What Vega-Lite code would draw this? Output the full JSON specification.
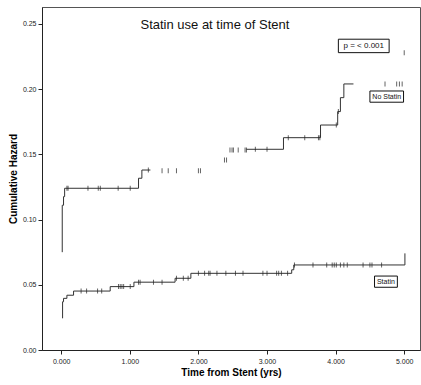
{
  "$schema": "https://vega.github.io/schema/vega-lite/v6.json",
  "width": 378,
  "height": 343,
  "autosize": {"type": "none"},
  "padding": {"left": 42, "top": 7, "right": 1, "bottom": 35},
  "config": {
    "font": "Liberation Sans",
    "view": {"stroke": "#555", "strokeWidth": 1},
    "axis": {
      "grid": false,
      "domainColor": "#222",
      "tickColor": "#222",
      "labelColor": "#222",
      "labelFont": "Liberation Sans",
      "labelFontSize": 7,
      "tickSize": 4,
      "titleFont": "Liberation Sans",
      "titleFontSize": 10,
      "titleFontWeight": "bold",
      "titleColor": "#000"
    }
  },
  "datasets": {
    "curves": [
      {"group": "No Statin", "seg": "A", "t": 0.015, "h": 0.075},
      {"group": "No Statin", "seg": "A", "t": 0.015, "h": 0.111},
      {"group": "No Statin", "seg": "A", "t": 0.034, "h": 0.1176},
      {"group": "No Statin", "seg": "A", "t": 0.05, "h": 0.124},
      {"group": "No Statin", "seg": "A", "t": 1.127, "h": 0.1317},
      {"group": "No Statin", "seg": "A", "t": 1.176, "h": 0.138},
      {"group": "No Statin", "seg": "A", "t": 1.3, "h": 0.138},
      {"group": "No Statin", "seg": "B", "t": 2.7, "h": 0.1539},
      {"group": "No Statin", "seg": "B", "t": 3.24, "h": 0.1628},
      {"group": "No Statin", "seg": "B", "t": 3.78, "h": 0.1725},
      {"group": "No Statin", "seg": "B", "t": 4.03, "h": 0.1828},
      {"group": "No Statin", "seg": "B", "t": 4.07, "h": 0.1935},
      {"group": "No Statin", "seg": "B", "t": 4.12, "h": 0.204},
      {"group": "No Statin", "seg": "B", "t": 4.26, "h": 0.204},
      {"group": "Statin", "seg": "C", "t": 0.02, "h": 0.0243},
      {"group": "Statin", "seg": "C", "t": 0.02, "h": 0.037},
      {"group": "Statin", "seg": "C", "t": 0.034, "h": 0.0396},
      {"group": "Statin", "seg": "C", "t": 0.083, "h": 0.042},
      {"group": "Statin", "seg": "C", "t": 0.18, "h": 0.0452},
      {"group": "Statin", "seg": "C", "t": 0.714, "h": 0.0486},
      {"group": "Statin", "seg": "C", "t": 1.06, "h": 0.052},
      {"group": "Statin", "seg": "C", "t": 1.66, "h": 0.055},
      {"group": "Statin", "seg": "C", "t": 1.89, "h": 0.0588},
      {"group": "Statin", "seg": "C", "t": 3.36, "h": 0.0615},
      {"group": "Statin", "seg": "C", "t": 3.39, "h": 0.0652},
      {"group": "Statin", "seg": "C", "t": 5.01, "h": 0.0652},
      {"group": "Statin", "seg": "C", "t": 5.01, "h": 0.0741}
    ],
    "censored": [
      {"group": "No Statin", "t": 0.083, "h": 0.124},
      {"group": "No Statin", "t": 0.1, "h": 0.124},
      {"group": "No Statin", "t": 0.39, "h": 0.124},
      {"group": "No Statin", "t": 0.54, "h": 0.124},
      {"group": "No Statin", "t": 0.57, "h": 0.124},
      {"group": "No Statin", "t": 0.83, "h": 0.124},
      {"group": "No Statin", "t": 1.006, "h": 0.124},
      {"group": "No Statin", "t": 1.27, "h": 0.138},
      {"group": "No Statin", "t": 1.47, "h": 0.1375},
      {"group": "No Statin", "t": 1.56, "h": 0.1375},
      {"group": "No Statin", "t": 1.68, "h": 0.1375},
      {"group": "No Statin", "t": 2.0, "h": 0.1375},
      {"group": "No Statin", "t": 2.03, "h": 0.1375},
      {"group": "No Statin", "t": 2.38, "h": 0.1457},
      {"group": "No Statin", "t": 2.41, "h": 0.1457},
      {"group": "No Statin", "t": 2.46, "h": 0.1534},
      {"group": "No Statin", "t": 2.49, "h": 0.1534},
      {"group": "No Statin", "t": 2.51, "h": 0.1534},
      {"group": "No Statin", "t": 2.58, "h": 0.1534},
      {"group": "No Statin", "t": 2.68, "h": 0.1534},
      {"group": "No Statin", "t": 2.7, "h": 0.1534},
      {"group": "No Statin", "t": 2.83, "h": 0.1539},
      {"group": "No Statin", "t": 3.0, "h": 0.1539},
      {"group": "No Statin", "t": 3.31, "h": 0.1628},
      {"group": "No Statin", "t": 3.55, "h": 0.1628},
      {"group": "No Statin", "t": 3.75, "h": 0.1628},
      {"group": "No Statin", "t": 3.77, "h": 0.1628},
      {"group": "No Statin", "t": 4.01, "h": 0.1725},
      {"group": "No Statin", "t": 4.04, "h": 0.1828},
      {"group": "No Statin", "t": 4.72, "h": 0.204},
      {"group": "No Statin", "t": 4.89, "h": 0.204},
      {"group": "No Statin", "t": 4.93, "h": 0.204},
      {"group": "No Statin", "t": 4.97, "h": 0.204},
      {"group": "No Statin", "t": 5.0, "h": 0.228},
      {"group": "Statin", "t": 0.29, "h": 0.0452},
      {"group": "Statin", "t": 0.37, "h": 0.0452},
      {"group": "Statin", "t": 0.53, "h": 0.0452},
      {"group": "Statin", "t": 0.59, "h": 0.0452},
      {"group": "Statin", "t": 0.835, "h": 0.0486},
      {"group": "Statin", "t": 0.86, "h": 0.0486},
      {"group": "Statin", "t": 0.885, "h": 0.0486},
      {"group": "Statin", "t": 0.91, "h": 0.0486},
      {"group": "Statin", "t": 1.006, "h": 0.0486},
      {"group": "Statin", "t": 1.127, "h": 0.052},
      {"group": "Statin", "t": 1.15, "h": 0.052},
      {"group": "Statin", "t": 1.345, "h": 0.052},
      {"group": "Statin", "t": 1.47, "h": 0.052},
      {"group": "Statin", "t": 1.68, "h": 0.055},
      {"group": "Statin", "t": 1.78, "h": 0.055},
      {"group": "Statin", "t": 1.85, "h": 0.055},
      {"group": "Statin", "t": 2.0, "h": 0.0588},
      {"group": "Statin", "t": 2.09, "h": 0.0588},
      {"group": "Statin", "t": 2.15, "h": 0.0588},
      {"group": "Statin", "t": 2.17, "h": 0.0588},
      {"group": "Statin", "t": 2.27, "h": 0.0588},
      {"group": "Statin", "t": 2.4, "h": 0.0588},
      {"group": "Statin", "t": 2.54, "h": 0.0588},
      {"group": "Statin", "t": 2.65, "h": 0.0588},
      {"group": "Statin", "t": 2.94, "h": 0.0588},
      {"group": "Statin", "t": 3.0, "h": 0.0588},
      {"group": "Statin", "t": 3.14, "h": 0.0588},
      {"group": "Statin", "t": 3.17, "h": 0.0588},
      {"group": "Statin", "t": 3.21, "h": 0.0588},
      {"group": "Statin", "t": 3.3, "h": 0.0588},
      {"group": "Statin", "t": 3.4, "h": 0.0652},
      {"group": "Statin", "t": 3.67, "h": 0.0652},
      {"group": "Statin", "t": 3.87, "h": 0.0652},
      {"group": "Statin", "t": 3.95, "h": 0.0652},
      {"group": "Statin", "t": 3.98, "h": 0.0652},
      {"group": "Statin", "t": 4.01, "h": 0.0652},
      {"group": "Statin", "t": 4.07, "h": 0.0652},
      {"group": "Statin", "t": 4.12, "h": 0.0652},
      {"group": "Statin", "t": 4.17, "h": 0.0652},
      {"group": "Statin", "t": 4.4, "h": 0.0652},
      {"group": "Statin", "t": 4.5, "h": 0.0652},
      {"group": "Statin", "t": 4.53, "h": 0.0652},
      {"group": "Statin", "t": 4.67, "h": 0.0652}
    ],
    "boxes": [
      {"label": "p = < 0.001", "x1": 4.04, "x2": 4.78, "y1": 0.228, "y2": 0.2383, "xc": 4.41, "yc": 0.2332, "fs": 8},
      {"label": "No Statin", "x1": 4.5, "x2": 4.99, "y1": 0.19, "y2": 0.1986, "xc": 4.745, "yc": 0.1943, "fs": 7},
      {"label": "Statin", "x1": 4.567, "x2": 4.9, "y1": 0.0481, "y2": 0.0567, "xc": 4.733, "yc": 0.0524, "fs": 7}
    ],
    "heading": [
      {"label": "Statin use at time of Stent", "xc": 2.24, "yc": 0.249}
    ]
  },
  "layer": [
    {
      "data": {"name": "curves"},
      "mark": {"type": "line", "interpolate": "step-after", "color": "#333", "strokeWidth": 1},
      "encoding": {
        "x": {
          "field": "t", "type": "quantitative",
          "scale": {"domain": [-0.28, 5.23], "nice": false, "zero": false},
          "axis": {"values": [0, 1, 2, 3, 4, 5], "format": ".3f", "title": "Time from Stent (yrs)", "labelPadding": 3, "titlePadding": 3}
        },
        "y": {
          "field": "h", "type": "quantitative",
          "scale": {"domain": [0, 0.263], "nice": false},
          "axis": {"values": [0, 0.05, 0.1, 0.15, 0.2, 0.25], "format": ".2f", "title": "Cumulative Hazard", "labelPadding": 2, "titlePadding": 4}
        },
        "detail": {"field": "seg"}
      }
    },
    {
      "data": {"name": "censored"},
      "mark": {"type": "tick", "orient": "vertical", "color": "#222", "size": 5, "thickness": 1},
      "encoding": {
        "x": {"field": "t", "type": "quantitative"},
        "y": {"field": "h", "type": "quantitative"}
      }
    },
    {
      "data": {"name": "boxes"},
      "mark": {"type": "rect", "fill": "white", "stroke": "#111", "strokeWidth": 1},
      "encoding": {
        "x": {"field": "x1", "type": "quantitative"},
        "x2": {"field": "x2"},
        "y": {"field": "y1", "type": "quantitative"},
        "y2": {"field": "y2"}
      }
    },
    {
      "data": {"name": "boxes"},
      "mark": {"type": "text", "color": "#111", "font": "Liberation Sans", "align": "center", "baseline": "middle"},
      "encoding": {
        "x": {"field": "xc", "type": "quantitative"},
        "y": {"field": "yc", "type": "quantitative"},
        "text": {"field": "label"},
        "size": {"field": "fs", "type": "quantitative", "scale": null}
      }
    },
    {
      "data": {"name": "heading"},
      "mark": {"type": "text", "color": "#111", "font": "Liberation Sans", "fontSize": 13, "align": "center", "baseline": "middle"},
      "encoding": {
        "x": {"field": "xc", "type": "quantitative"},
        "y": {"field": "yc", "type": "quantitative"},
        "text": {"field": "label"}
      }
    }
  ]
}
